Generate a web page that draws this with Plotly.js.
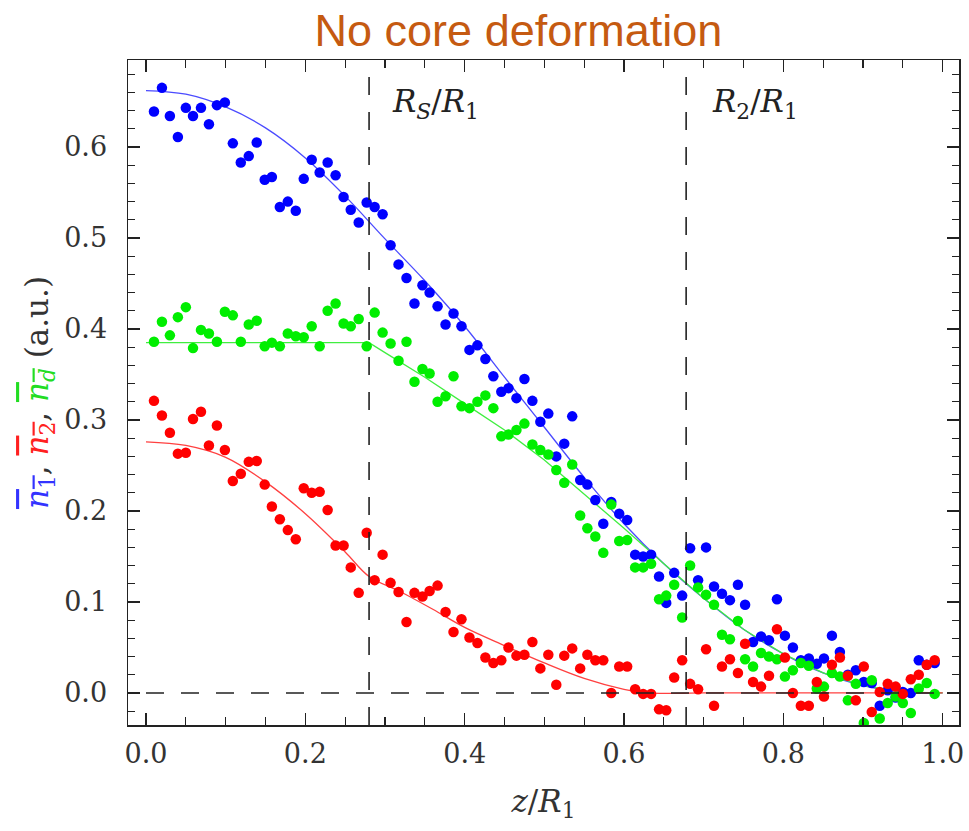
<!DOCTYPE html>
<html>
<head>
<meta charset="utf-8">
<script src="https://cdn.plot.ly/plotly-3.0.1.min.js"></script>
<style>html,body{margin:0;padding:0;background:#fff;}#chart{width:969px;height:831px;}</style>
</head>
<body>
<div id="chart"></div>
<script>
// positions z/R1 of the measured points
const z = [0.010,0.020,0.030,0.040,0.050,0.059,0.069,0.079,0.089,0.099,
0.109,0.119,0.129,0.139,0.149,0.158,0.168,0.178,0.188,0.198,
0.208,0.218,0.228,0.238,0.248,0.257,0.267,0.277,0.287,0.297,
0.307,0.317,0.327,0.337,0.347,0.356,0.366,0.376,0.386,0.396,
0.406,0.416,0.426,0.436,0.446,0.455,0.465,0.475,0.485,0.495,
0.505,0.515,0.525,0.535,0.545,0.554,0.564,0.574,0.584,0.594,
0.604,0.614,0.624,0.634,0.644,0.653,0.663,0.673,0.683,0.693,
0.703,0.713,0.723,0.733,0.743,0.752,0.762,0.772,0.782,0.792,
0.802,0.812,0.822,0.832,0.842,0.851,0.861,0.871,0.881,0.891,
0.901,0.911,0.921,0.931,0.941,0.950,0.960,0.970,0.980,0.990];

const n1 = [0.639,0.665,0.634,0.611,0.643,0.634,0.643,0.625,0.646,0.649,
0.604,0.583,0.590,0.605,0.564,0.567,0.534,0.540,0.530,0.565,
0.586,0.572,0.583,0.569,0.545,0.531,0.517,0.539,0.534,0.526,
0.492,0.471,0.456,0.428,0.448,0.440,0.425,0.405,0.417,0.403,
0.377,0.382,0.367,0.348,0.331,0.335,0.324,0.345,0.321,0.298,
0.307,0.260,0.274,0.304,0.234,0.229,0.212,0.186,0.210,0.197,
0.190,0.152,0.150,0.152,0.128,0.099,0.132,0.107,0.159,0.124,
0.160,0.117,0.109,0.102,0.119,0.097,0.056,0.062,0.058,0.103,
0.063,0.050,0.036,0.038,0.032,0.038,0.063,0.045,0.020,0.025,
0.012,0.011,-0.014,0.003,-0.005,0.001,0.000,0.036,0.031,0.033];

const nd = [0.386,0.408,0.393,0.413,0.424,0.379,0.399,0.395,0.386,0.419,
0.415,0.386,0.405,0.409,0.381,0.385,0.381,0.395,0.392,0.391,
0.403,0.381,0.420,0.428,0.406,0.403,0.411,0.381,0.418,0.396,
0.384,0.365,0.386,0.342,0.356,0.351,0.320,0.326,0.348,0.315,
0.313,0.320,0.327,0.313,0.282,0.284,0.289,0.296,0.273,0.267,
0.262,0.245,0.231,0.251,0.195,0.181,0.172,0.154,0.207,0.167,
0.168,0.138,0.138,0.142,0.103,0.107,0.119,0.083,0.140,0.116,
0.108,0.097,0.064,0.059,0.079,0.037,0.029,0.044,0.040,0.037,
0.018,0.025,0.033,0.030,0.005,0.007,0.022,0.018,-0.008,0.010,
-0.033,0.014,-0.028,-0.011,-0.004,-0.011,-0.022,0.005,0.011,-0.001];

const n2 = [0.321,0.305,0.286,0.263,0.264,0.301,0.309,0.272,0.294,0.267,
0.233,0.241,0.254,0.255,0.229,0.205,0.191,0.179,0.169,0.225,
0.220,0.221,0.201,0.162,0.162,0.138,0.110,0.176,0.124,0.152,
0.121,0.111,0.078,0.110,0.106,0.112,0.118,0.089,0.067,0.081,
0.061,0.055,0.039,0.033,0.036,0.050,0.041,0.042,0.056,0.027,
0.042,0.009,0.041,0.049,0.027,0.042,0.036,0.036,0.000,0.029,
0.029,0.004,-0.001,-0.001,-0.018,-0.019,0.017,0.036,0.010,0.004,
0.048,-0.014,0.029,0.037,0.022,0.054,0.012,0.007,0.019,0.070,
0.039,0.000,-0.014,-0.014,0.012,-0.004,0.031,0.039,0.019,-0.008,
0.029,-0.021,0.001,0.010,0.007,-0.001,0.015,0.020,0.031,0.036];

// fitted curves
const zFit1 = [0,0.05,0.1,0.15,0.2,0.25,0.3,0.35,0.4,0.45,0.5,0.55,0.6,0.65,0.7,0.75,0.8,0.85,0.9,0.95,1.0];
const fit1  = [0.662,0.658,0.644,0.621,0.588,0.546,0.499,0.453,0.403,0.347,0.292,0.237,0.186,0.142,0.104,0.070,0.043,0.022,0.008,0.001,0.0];
const zFitD = [0,0.28,0.3,0.35,0.4,0.45,0.5,0.55,0.6,0.65,0.7,0.75,0.8,0.85,0.9,0.95,1.0];
const fitD  = [0.385,0.385,0.374,0.347,0.318,0.289,0.256,0.219,0.181,0.142,0.104,0.070,0.043,0.022,0.008,0.001,0.0];
const zFit2 = [0,0.05,0.1,0.15,0.2,0.25,0.28,0.32,0.36,0.4,0.45,0.5,0.55,0.6,0.63,0.7,0.8,0.9,1.0];
const fit2  = [0.276,0.272,0.259,0.232,0.197,0.155,0.128,0.111,0.092,0.072,0.052,0.033,0.016,0.004,0.0,0.0,0.0,0.0,0.0];

// marker lines
const rS = 0.280, r2 = 0.678;

const BLUE = '#0000ff', RED = '#ff0000', GREEN = '#00ee00';
const serif = 'DejaVu Serif';

const traces = [
  {x: zFit1, y: fit1, mode: 'lines', line: {color: '#4b4bff', width: 1.3, shape: 'spline'}, hoverinfo: 'skip'},
  {x: zFitD, y: fitD, mode: 'lines', line: {color: '#40ee40', width: 1.3}, hoverinfo: 'skip'},
  {x: zFit2, y: fit2, mode: 'lines', line: {color: '#ff4040', width: 1.3, shape: 'spline'}, hoverinfo: 'skip'},
  {x: z, y: n1, mode: 'markers', marker: {color: BLUE, size: 10.5}},
  {x: z, y: nd, mode: 'markers', marker: {color: GREEN, size: 10.5}},
  {x: z, y: n2, mode: 'markers', marker: {color: RED, size: 10.5}}
];

const dash = '18px,17px';
const layout = {
  width: 969, height: 831,
  margin: {l: 128, r: 10, t: 60, b: 106},
  paper_bgcolor: '#fff', plot_bgcolor: '#fff',
  showlegend: false,
  title: {text: 'No core deformation', x: 0.535, xanchor: 'center', y: 0.983, yanchor: 'top',
          font: {family: 'Liberation Sans', size: 45, color: '#c55a11'}},
  xaxis: {
    range: [-0.0226, 1.0205], showgrid: false, zeroline: false,
    showline: true, linecolor: '#222', linewidth: 1.5, mirror: 'allticks',
    ticks: 'inside', ticklen: 12, tickwidth: 1.3, tickcolor: '#222',
    tickmode: 'array', tickvals: [0, 0.2, 0.4, 0.6, 0.8, 1.0], ticktext: ['0.0','0.2','0.4','0.6','0.8','1.0'],
    minor: {dtick: 0.05, tick0: 0, ticks: 'inside', ticklen: 8, tickwidth: 1.3, tickcolor: '#222'},
    tickfont: {family: serif, size: 27, color: '#333'},
    ticklabelstandoff: 4,
    title: {text: '<i>z</i>/<i>R</i><sub>1</sub>', font: {family: serif, size: 31, color: '#333'}, standoff: 22}
  },
  yaxis: {
    range: [-0.0352, 0.6956], showgrid: false, zeroline: false,
    showline: true, linecolor: '#222', linewidth: 1.5, mirror: 'allticks',
    ticks: 'inside', ticklen: 12, tickwidth: 1.3, tickcolor: '#222',
    tickmode: 'array', tickvals: [0, 0.1, 0.2, 0.3, 0.4, 0.5, 0.6], ticktext: ['0.0','0.1','0.2','0.3','0.4','0.5','0.6'],
    minor: {dtick: 0.02, tick0: 0, ticks: 'inside', ticklen: 7, tickwidth: 1.3, tickcolor: '#222'},
    tickfont: {family: serif, size: 27, color: '#333'},
    ticklabelstandoff: 14,
    title: {text: '<span style="color:#3333ff;text-decoration:overline"><i>n</i><sub>1</sub></span>, <span style="color:#ff2020;text-decoration:overline"><i>n</i><sub>2</sub></span>, <span style="color:#22dd22;text-decoration:overline"><i>n<sub>d</sub></i></span> (a.u.)',
            font: {family: serif, size: 31, color: '#333'}, standoff: 6}
  },
  shapes: [
    {type: 'line', xref: 'x', yref: 'paper', x0: rS, x1: rS, y0: 0, y1: 1, layer: 'above', line: {color: '#222', width: 1.6, dash: dash}},
    {type: 'line', xref: 'x', yref: 'paper', x0: r2, x1: r2, y0: 0, y1: 1, layer: 'above', line: {color: '#222', width: 1.6, dash: dash}},
    {type: 'line', xref: 'x', yref: 'y', x0: 0, x1: 1, y0: 0, y1: 0, layer: 'above', line: {color: '#222', width: 1.6, dash: dash}}
  ],
  annotations: [
    {x: rS + 0.026, y: 0.648, xref: 'x', yref: 'y', xanchor: 'left', yanchor: 'middle', showarrow: false,
     text: '<i>R</i><sub><i>S</i></sub>/<i>R</i><sub>1</sub>', font: {family: serif, size: 31, color: '#222'}},
    {x: r2 + 0.030, y: 0.648, xref: 'x', yref: 'y', xanchor: 'left', yanchor: 'middle', showarrow: false,
     text: '<i>R</i><sub>2</sub>/<i>R</i><sub>1</sub>', font: {family: serif, size: 31, color: '#222'}}
  ]
};

Plotly.newPlot('chart', traces, layout, {displayModeBar: false, staticPlot: true});
</script>
</body>
</html>
